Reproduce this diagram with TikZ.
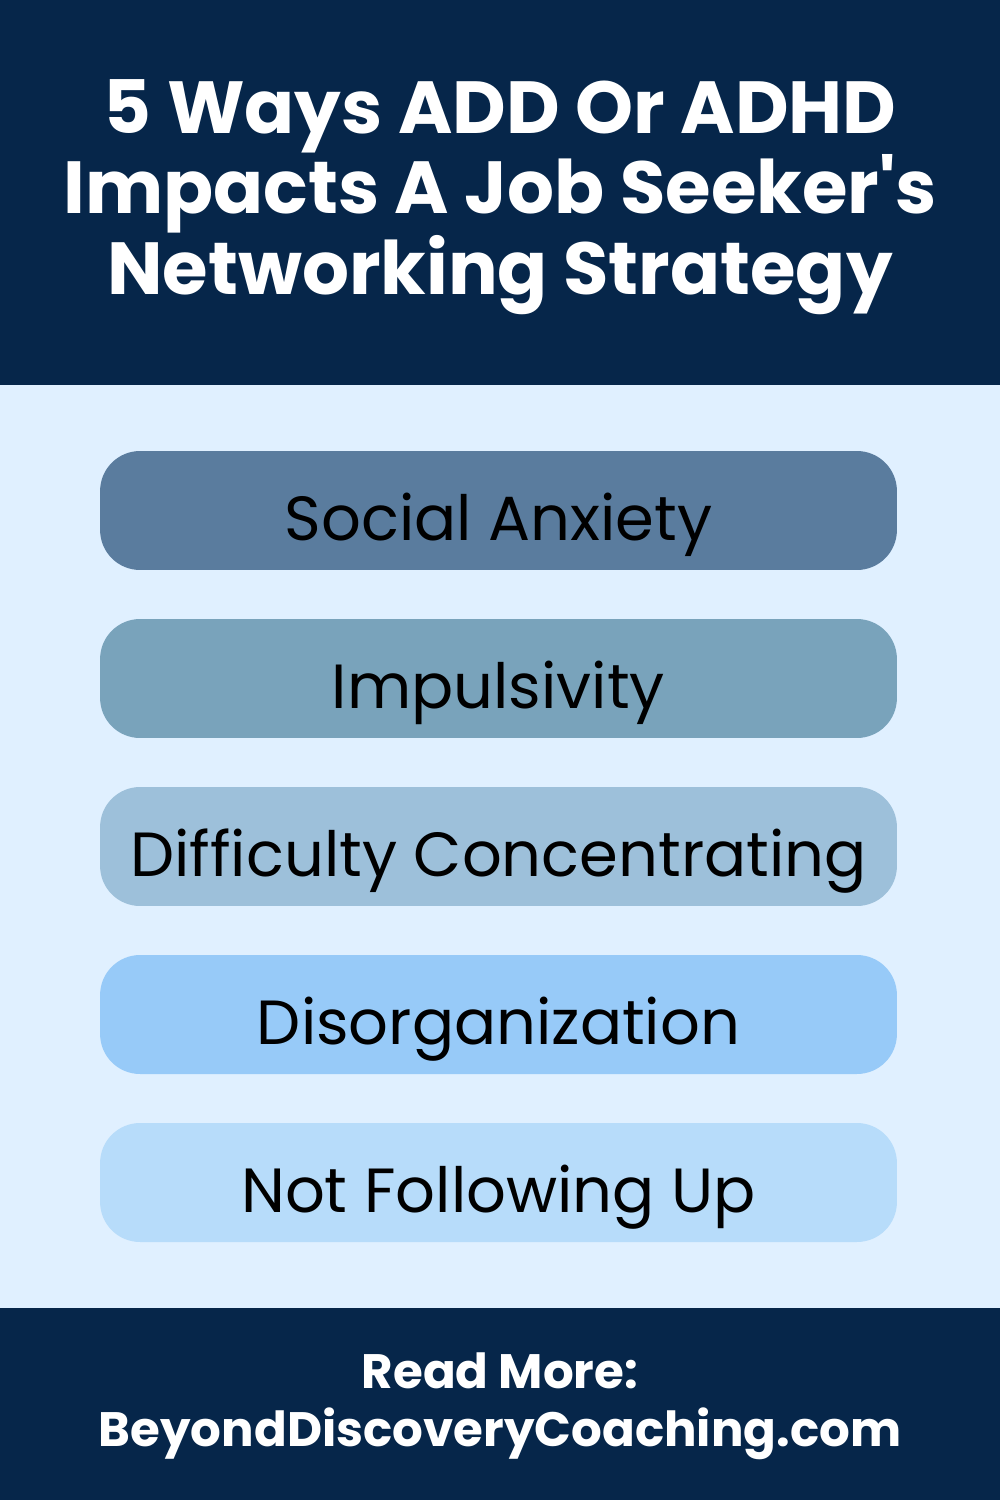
\documentclass[tikz,border=0pt]{standalone}
\usepackage{fontspec}
\setmainfont{Poppins}
\newfontfamily\plainpop{Poppins}[Ligatures=TeXOff]
\definecolor{navy}{HTML}{06264A}
\definecolor{bg}{HTML}{E0F0FF}
\definecolor{c1}{HTML}{5A7C9E}
\definecolor{c2}{HTML}{79A3BB}
\definecolor{c3}{HTML}{9DC0DA}
\definecolor{c4}{HTML}{97CAF8}
\definecolor{c5}{HTML}{B7DCFA}
\tikzset{item/.style={rounded corners=0.8cm,minimum width=15.94cm,minimum height=2.38cm,inner sep=0pt,text height=1.3cm,text depth=0.1cm,font=\fontsize{35.5}{40}\selectfont,text=black}}
\begin{document}
\begin{tikzpicture}[x=0.02cm,y=-0.02cm]
\useasboundingbox (0,0) rectangle (1000,1500);
\fill[bg] (0,0) rectangle (1000,1500);
\fill[navy] (0,0) rectangle (1000,385);
\fill[navy] (0,1308) rectangle (1000,1500);
\node[text=white,align=center,font=\plainpop\fontsize{42}{44.5}\bfseries\selectfont] (title) at (500,197) {5 Ways ADD Or ADHD\\Impacts A Job Seeker's\\Networking Strategy};
\node[item,fill=c1] (b1) at (498.5,510.5) {Social Anxiety};
\node[item,fill=c2] (b2) at (498.5,678.5) {Impulsivity};
\node[item,fill=c3] (b3) at (498.5,846.5) {Difficulty Concentrating};
\node[item,fill=c4] (b4) at (498.5,1014.5) {Disorganization};
\node[item,fill=c5] (b5) at (498.5,1182.5) {Not Following Up};
\node[text=white,align=center,font=\fontsize{27.5}{33}\bfseries\selectfont] (foot) at (500,1406) {Read More:\\BeyondDiscoveryCoaching.com};
\end{tikzpicture}
\end{document}
